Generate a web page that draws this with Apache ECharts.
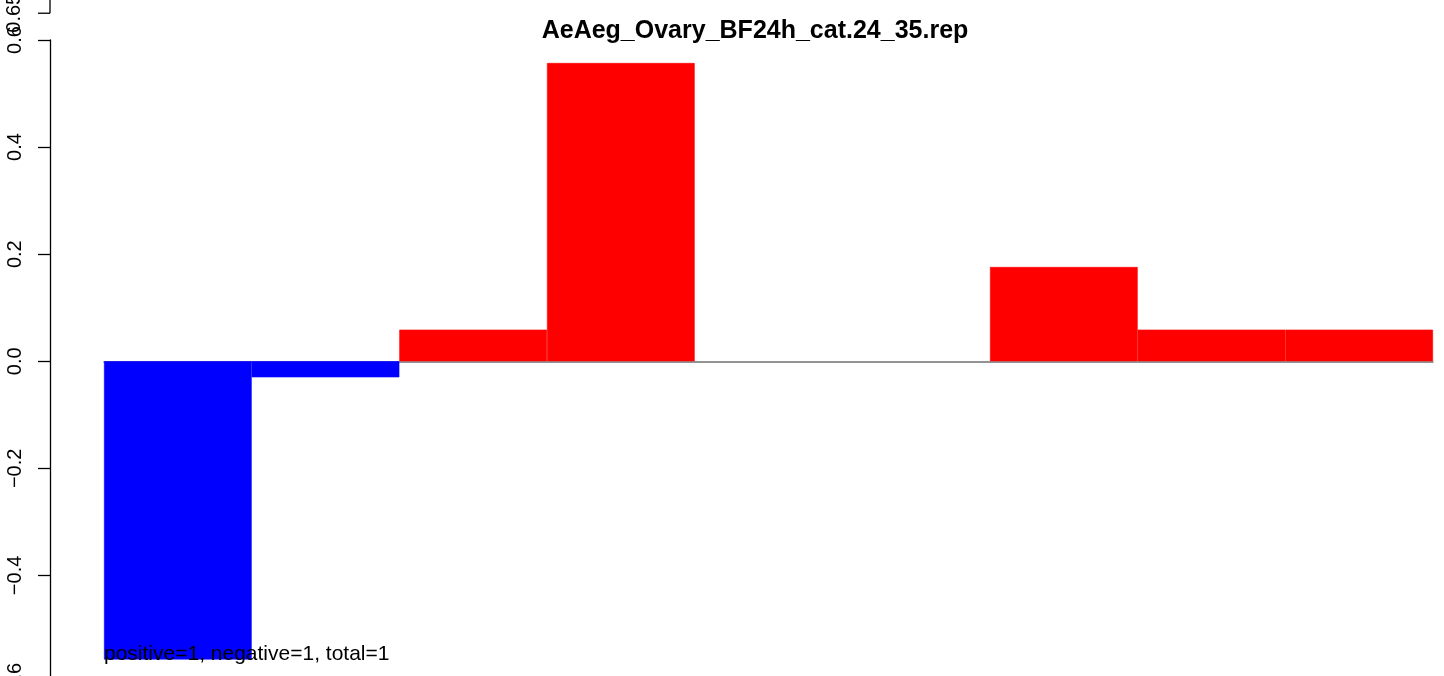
<!DOCTYPE html>
<html>
<head>
<meta charset="utf-8">
<script src="https://cdn.jsdelivr.net/npm/echarts@6/dist/echarts.min.js"></script>
<style>
html,body{margin:0;padding:0;background:#fff;}
#chart{width:1444px;height:676px;}
</style>
</head>
<body>
<div id="chart"></div>
<script>
const titleText = 'AeAeg_Ovary_BF24h_cat.24_35.rep';
const noteText = 'positive=1, negative=1, total=1';
const categories = ['1','2','3','4','5','6','7','8','9'];
const values = [-0.557, -0.030, 0.059, 0.557, 0, 0, 0.176, 0.059, 0.059];
const yTicks = [-0.6, -0.4, -0.2, 0.0, 0.2, 0.4, 0.6];
const extraTick = 0.65;
const extraTickLabel = '0.65';

const FONT = 'Liberation Sans, Arial, Helvetica, sans-serif';
const chart = echarts.init(document.getElementById('chart'), null, {renderer:'canvas'});

const option = {
  animation: false,
  backgroundColor: '#fff',
  title: {
    text: titleText,
    left: 750,
    top: 14,
    textAlign: 'center',
    textStyle: {fontFamily: FONT, fontWeight: 'bold', fontSize: 25, color: '#000'}
  },
  grid: {left: 104, width: 1329, top: 40, height: 642.5, containLabel: false, outerBoundsMode: 'none'},
  xAxis: {
    type: 'category',
    data: categories,
    axisLine: {show: true, onZero: true, lineStyle: {color: '#707070', width: 1.5}},
    axisTick: {show: false},
    axisLabel: {show: false},
    splitLine: {show: false}
  },
  yAxis: {
    type: 'value',
    min: yTicks[0],
    max: yTicks[yTicks.length - 1],
    interval: 0.2,
    offset: 54,
    axisLine: {show: true, lineStyle: {color: '#000', width: 1.3}},
    axisTick: {show: true, length: 12, lineStyle: {color: '#000', width: 1.3}},
    axisLabel: {
      rotate: 90,
      margin: 25,
      fontFamily: FONT,
      fontSize: 20,
      color: '#000',
      formatter: v => {
        const s = (Math.round(v * 10) / 10).toFixed(1);
        return s.replace('-', '\u2212');
      }
    },
    splitLine: {show: false}
  },
  series: [{
    type: 'bar',
    data: values.map(v => {
      const c = v < 0 ? '#0000FF' : '#FF0000';
      return {value: v, itemStyle: v === 0 ? {color: c} : {color: c, borderColor: c, borderWidth: 0.6}};
    }),
    barCategoryGap: '0%',
    barWidth: '100%',
    z: 2
  }]
};
chart.setOption(option);

// extra axis segment at the top (beyond the main axis range)
const axisX = 50;
const yZero = chart.convertToPixel({yAxisIndex: 0}, 0);
const yTop = chart.convertToPixel({yAxisIndex: 0}, 0.6);
const yE = yZero - (extraTick / 0.6) * (yZero - yTop);
const bottomBaseline = chart.convertToPixel({yAxisIndex: 0}, values[0]);

chart.setOption({
  graphic: [
    {type: 'line', shape: {x1: axisX, y1: -2, x2: axisX, y2: yE}, style: {stroke: '#000', lineWidth: 1.3}, z: 10},
    {type: 'line', shape: {x1: axisX - 12, y1: yE, x2: axisX, y2: yE}, style: {stroke: '#000', lineWidth: 1.3}, z: 10},
    {type: 'text', x: 14.5, y: yE, rotation: Math.PI / 2,
      style: {text: extraTickLabel, font: '20px ' + FONT, fill: '#000', align: 'center', verticalAlign: 'middle'}, z: 10},
    {type: 'text', x: 104, y: bottomBaseline - 5, 
      style: {text: noteText, font: '21px ' + FONT, fill: '#000', align: 'left', verticalAlign: 'middle'}, z: 20}
  ]
});
</script>
</body>
</html>
